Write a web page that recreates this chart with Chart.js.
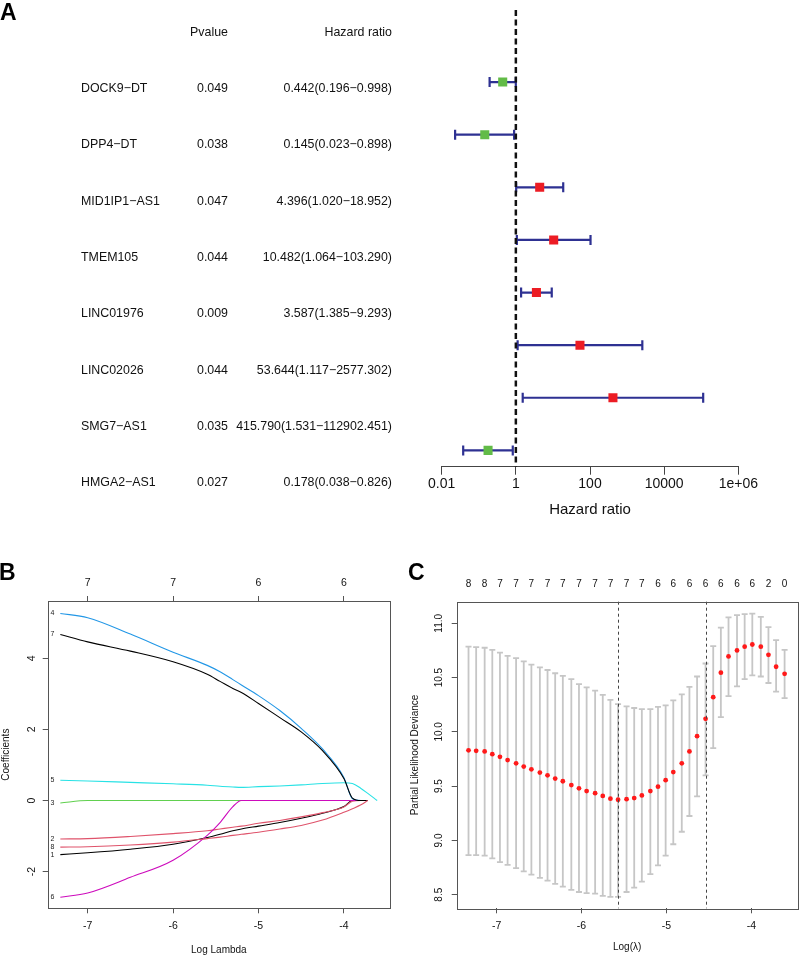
<!DOCTYPE html>
<html lang="en">
<head>
<meta charset="UTF-8">
<title>Cox forest plot and LASSO</title>
<script src="https://cdn.jsdelivr.net/npm/chart.js@4.4.1/dist/chart.umd.min.js"></script>
<style>
    body { margin: 0; background: #fff; font-family: "Liberation Sans", Arial, Helvetica, sans-serif; }
    #page { position: relative; width: 800px; height: 957px; overflow: hidden; }
    #page canvas { position: absolute; }
    .txt { position: absolute; font-size: 12.4px; line-height: 16px; color: #111; white-space: nowrap; }
    .panel { position: absolute; font-weight: bold; font-size: 23px; line-height: 23px; color: #000; }
</style>
</head>
<body>
<div id="page">
    <canvas id="forest" width="800" height="519" style="left:0;top:0"></canvas>
    <canvas id="coef" width="400" height="397" style="left:0;top:560px"></canvas>
    <canvas id="cv" width="400" height="397" style="left:400px;top:560px"></canvas>
    <div class="panel" style="left:0;top:1px">A</div>
    <div class="panel" style="left:-1px;top:561px">B</div>
    <div class="panel" style="left:408px;top:561px">C</div>
</div>
<script>
// ---- panel A : univariate cox
const genes = ['DOCK9-DT', 'DPP4-DT', 'MID1IP1-AS1', 'TMEM105', 'LINC01976', 'LINC02026', 'SMG7-AS1', 'HMGA2-AS1'];
const pvals = [0.049, 0.038, 0.047, 0.044, 0.009, 0.044, 0.035, 0.027];
const hr = [0.442, 0.145, 4.396, 10.482, 3.587, 53.644, 415.790, 0.178];
const hrLow = [0.196, 0.023, 1.020, 1.064, 1.385, 1.117, 1.531, 0.038];
const hrHigh = [0.998, 0.898, 18.952, 103.290, 9.293, 2577.302, 112902.451, 0.826];
const hrTicks = [0.01, 1, 100, 10000, 1e6];
const hrTickLabels = ['0.01', '1', '100', '10000', '1e+06'];

// ---- panel B : coefficient paths
const logLambdaB = [-7.32, -7.0, -6.5, -6.0, -5.6, -5.45, -5.3, -5.2, -5.0, -4.75, -4.5, -4.25, -4.0, -3.9, -3.8, -3.72, -3.61];
const coef1 = [-1.52, -1.47, -1.37, -1.23, -1.04, -0.95, -0.85, -0.80, -0.72, -0.62, -0.50, -0.36, -0.17, 0, 0, 0, null];
const coef2 = [-1.08, -1.07, -1.01, -0.93, -0.85, -0.80, -0.75, -0.72, -0.64, -0.56, -0.46, -0.34, -0.18, -0.02, 0, 0, null];
const coef3 = [-0.07, 0, 0, 0, 0, 0, 0, 0, 0, 0, 0, 0, 0, 0, 0, 0, null];
const coef4 = [5.26, 5.14, 4.68, 4.17, 3.80, 3.62, 3.40, 3.25, 2.95, 2.53, 2.03, 1.45, 0.65, 0.05, 0, 0, null];
const coef5 = [0.57, 0.55, 0.51, 0.47, 0.43, 0.40, 0.38, 0.37, 0.39, 0.41, 0.44, 0.48, 0.50, 0.48, 0.34, 0.20, 0];
const coef6 = [-2.72, -2.60, -2.16, -1.68, -0.98, -0.62, -0.17, 0, 0, 0, 0, 0, 0, 0, 0, 0, null];
const coef7 = [4.67, 4.46, 4.20, 3.90, 3.55, 3.35, 3.15, 3.04, 2.73, 2.33, 1.93, 1.40, 0.62, 0.07, 0, 0, null];
const coef8 = [-1.31, -1.30, -1.25, -1.17, -1.07, -1.03, -0.98, -0.95, -0.89, -0.80, -0.70, -0.55, -0.33, -0.23, -0.12, 0, null];
const coefTicksX = [-7, -6, -5, -4];
const coefTopLabels = ['7', '7', '6', '6'];
const coefTicksY = [-2, 0, 2, 4];

// ---- panel C : cross validation
const logLambdaC = [-7.33, -7.24, -7.14, -7.05, -6.96, -6.87, -6.77, -6.68, -6.59, -6.49, -6.40, -6.31, -6.22, -6.12,
    -6.03, -5.94, -5.84, -5.75, -5.66, -5.57, -5.47, -5.38, -5.29, -5.19, -5.10, -5.01, -4.92, -4.82, -4.73, -4.64,
    -4.54, -4.45, -4.36, -4.27, -4.17, -4.08, -3.99, -3.89, -3.80, -3.71, -3.61];
const cvm = [9.83, 9.825, 9.82, 9.795, 9.77, 9.74, 9.71, 9.68, 9.655, 9.625, 9.60, 9.57, 9.545, 9.51, 9.48, 9.455,
    9.435, 9.41, 9.385, 9.375, 9.38, 9.39, 9.415, 9.455, 9.495, 9.555, 9.63, 9.71, 9.82, 9.96, 10.12, 10.32, 10.545,
    10.695, 10.75, 10.785, 10.805, 10.785, 10.71, 10.60, 10.535];
const cvUp = [10.785, 10.78, 10.775, 10.755, 10.73, 10.70, 10.68, 10.65, 10.62, 10.595, 10.57, 10.54, 10.515, 10.485,
    10.44, 10.41, 10.38, 10.34, 10.295, 10.255, 10.235, 10.22, 10.21, 10.21, 10.23, 10.245, 10.29, 10.345, 10.415,
    10.51, 10.63, 10.79, 10.96, 11.055, 11.075, 11.085, 11.09, 11.06, 10.965, 10.845, 10.755];
const cvLo = [8.865, 8.865, 8.86, 8.835, 8.80, 8.775, 8.745, 8.715, 8.685, 8.655, 8.63, 8.60, 8.575, 8.545, 8.525,
    8.515, 8.51, 8.49, 8.48, 8.48, 8.525, 8.565, 8.62, 8.69, 8.77, 8.86, 8.965, 9.08, 9.225, 9.405, 9.60, 9.85, 10.135,
    10.33, 10.42, 10.485, 10.52, 10.51, 10.45, 10.37, 10.31];
const nzeroC = [8, 8, 7, 7, 7, 7, 7, 7, 7, 7, 7, 7, 6, 6, 6, 6, 6, 6, 6, 2, 0];   // every 2nd lambda
const lambdaMinLog = -5.57;
const lambda1seLog = -4.54;
const cvTicksX = [-7, -6, -5, -4];
const cvTicksY = [8.5, 9.0, 9.5, 10.0, 10.5, 11.0];

const FONT = '"Liberation Sans", Arial, Helvetica, sans-serif';
Chart.defaults.font.family = FONT;
Chart.defaults.color = '#111';
Chart.defaults.animation = false;
Chart.defaults.responsive = false;
Chart.defaults.plugins.legend.display = false;
Chart.defaults.plugins.tooltip.enabled = false;

const MINUS = '\u2212';

// table text of panel A
const page = document.getElementById('page');
function addText(txt, left, top, width, align) {
    const d = document.createElement('div');
    d.className = 'txt';
    d.textContent = txt;
    d.style.left = left + 'px';
    d.style.top = top + 'px';
    if (width) { d.style.width = width + 'px'; d.style.textAlign = align; }
    page.appendChild(d);
}
addText('Pvalue', 0, 24, 228, 'right');
addText('Hazard ratio', 0, 24, 392, 'right');
genes.forEach((g, i) => {
    const top = 80 + 56.3 * i;
    addText(g.replace(/-/g, MINUS), 81, top);
    addText(pvals[i].toFixed(3), 0, top, 228, 'right');
    addText(hr[i].toFixed(3) + '(' + hrLow[i].toFixed(3) + MINUS + hrHigh[i].toFixed(3) + ')', 0, top, 392, 'right');
});

// error bars of the forest plot
const forestBars = {
    id: 'forestBars',
    beforeDatasetsDraw(chart) {
        const {ctx, scales: {x, y}} = chart;
        ctx.save();
        ctx.strokeStyle = '#2e3192';
        ctx.lineWidth = 2.2;
        hr.forEach((v, i) => {
            const x1 = x.getPixelForValue(hrLow[i]);
            const x2 = x.getPixelForValue(hrHigh[i]);
            const yy = y.getPixelForValue(i);
            ctx.beginPath();
            ctx.moveTo(x1, yy); ctx.lineTo(x2, yy);
            ctx.moveTo(x1, yy - 5); ctx.lineTo(x1, yy + 5);
            ctx.moveTo(x2, yy - 5); ctx.lineTo(x2, yy + 5);
            ctx.stroke();
        });
        ctx.restore();
    }
};

new Chart(document.getElementById('forest'), {
    type: 'scatter',
    data: {
        datasets: [{
            data: hr.map((v, i) => ({x: v, y: i})),
            pointStyle: 'rect',
            pointRadius: 6.4,
            pointHoverRadius: 6.4,
            borderWidth: 0,
            backgroundColor: hr.map(v => v < 1 ? '#62bb47' : '#ec1c24')
        }, {
            data: [{x: 1, y: -1.37}, {x: 1, y: 7.31}],
            showLine: true,
            borderColor: '#111',
            borderWidth: 2.5,
            borderDash: [6, 3.5],
            pointRadius: 0
        }]
    },
    options: {
        layout: {padding: {left: 441.7, right: 61.7, top: 10, bottom: 0}},
        scales: {
            x: {
                type: 'logarithmic',
                min: 0.01,
                max: 1e6,
                afterBuildTicks: s => { s.ticks = hrTicks.map(v => ({value: v})); },
                afterFit: s => { s.height = 52.3; },
                ticks: {
                    callback: (v, i) => hrTickLabels[i],
                    font: {size: 14},
                    color: '#111',
                    padding: 1,
                    autoSkip: false,
                    maxRotation: 0
                },
                grid: {drawOnChartArea: false, tickLength: 8, color: '#444'},
                border: {color: '#444'},
                title: {display: true, text: 'Hazard ratio', font: {size: 15}, color: '#111', padding: {top: 0, bottom: 0}}
            },
            y: {display: false, min: -1.37, max: 7.31, reverse: true}
        }
    },
    plugins: [forestBars]
});

// box around the plot region (R style)
const frame = {
    id: 'frame',
    afterDraw(chart) {
        const {ctx, chartArea: a} = chart;
        ctx.save();
        ctx.strokeStyle = '#555';
        ctx.lineWidth = 1;
        ctx.strokeRect(Math.round(a.left) + 0.5, Math.round(a.top) + 0.5, Math.round(a.width), Math.round(a.height));
        ctx.restore();
    }
};

function rAxisX(ticks, labels, extra) {
    return Object.assign({
        type: 'linear',
        min: -7.468,
        max: -3.46,
        afterBuildTicks: s => { s.ticks = ticks.map(v => ({value: v})); },
        ticks: {callback: (v, i) => labels[i], font: {size: 10.5}, color: '#111', autoSkip: false, maxRotation: 0},
        grid: {drawOnChartArea: false, tickLength: 5, color: '#555'},
        border: {display: false}
    }, extra);
}

// ---- panel B
const coefPalette = ['#000000', '#DF536B', '#61D04F', '#2297E6', '#28E2E5', '#CD0BBC'];
const coefs = [coef1, coef2, coef3, coef4, coef5, coef6, coef7, coef8];

const pathLabels = {
    id: 'pathLabels',
    afterDatasetsDraw(chart) {
        const {ctx} = chart;
        ctx.save();
        ctx.font = '7px ' + FONT;
        ctx.fillStyle = '#222';
        ctx.textAlign = 'center';
        ctx.textBaseline = 'middle';
        chart.data.datasets.forEach((ds, i) => {
            const p = chart.getDatasetMeta(i).data[0];
            ctx.fillText(ds.label, p.x - 8, p.y);
        });
        ctx.restore();
    }
};

new Chart(document.getElementById('coef'), {
    type: 'scatter',
    data: {
        datasets: coefs.map((vals, k) => ({
            label: String(k + 1),
            data: logLambdaB.map((x, i) => ({x: x, y: vals[i]})),
            showLine: true,
            borderColor: coefPalette[k % 6],
            borderWidth: 1.1,
            pointRadius: 0,
            cubicInterpolationMode: 'monotone',
            order: 8 - k
        }))
    },
    options: {
        layout: {padding: {left: 0, right: 10, top: 0, bottom: 0}},
        scales: {
            x: rAxisX(coefTicksX, coefTicksX.map(String), {
                position: 'bottom',
                afterFit: s => { s.height = 48.7; },
                title: {display: true, text: 'Log Lambda', font: {size: 10}, color: '#111', padding: {top: 0, bottom: 1}}
            }),
            xTop: rAxisX(coefTicksX, coefTopLabels, {
                position: 'top',
                afterFit: s => { s.height = 41; }
            }),
            y: {
                min: -3.03,
                max: 5.61,
                afterBuildTicks: s => { s.ticks = coefTicksY.map(v => ({value: v})); },
                afterFit: s => { s.width = 47.7; },
                ticks: {font: {size: 10.5}, color: '#111', minRotation: 90, maxRotation: 90, crossAlign: 'center', padding: 6.3, autoSkip: false},
                grid: {drawOnChartArea: false, tickLength: 5, color: '#555'},
                border: {display: false},
                title: {display: true, text: 'Coefficients', font: {size: 10}, color: '#111', padding: {top: 0.3, bottom: 0}}
            }
        }
    },
    plugins: [pathLabels, frame]
});
// padding for the tick labels of B
const coefChart = Chart.getChart('coef');
coefChart.options.scales.xTop.ticks.padding = 6.4;
coefChart.options.scales.x.ticks.padding = 7;
coefChart.update();

// ---- panel C
const cvBars = {
    id: 'cvBars',
    beforeDatasetsDraw(chart) {
        const {ctx, scales: {x, y}} = chart;
        ctx.save();
        ctx.strokeStyle = '#c6c6c6';
        ctx.lineWidth = 1.8;
        logLambdaC.forEach((l, i) => {
            const px = x.getPixelForValue(l);
            const y1 = y.getPixelForValue(cvLo[i]);
            const y2 = y.getPixelForValue(cvUp[i]);
            ctx.beginPath();
            ctx.moveTo(px, y1); ctx.lineTo(px, y2);
            ctx.moveTo(px - 3, y1); ctx.lineTo(px + 3, y1);
            ctx.moveTo(px - 3, y2); ctx.lineTo(px + 3, y2);
            ctx.stroke();
        });
        ctx.restore();
    },
    afterDatasetsDraw(chart) {
        const {ctx, chartArea: a, scales: {x}} = chart;
        ctx.save();
        ctx.strokeStyle = '#444';
        ctx.lineWidth = 1;
        ctx.setLineDash([3, 3]);
        [lambdaMinLog, lambda1seLog].forEach(l => {
            const px = Math.round(x.getPixelForValue(l)) + 0.5;
            ctx.beginPath();
            ctx.moveTo(px, a.top); ctx.lineTo(px, a.bottom);
            ctx.stroke();
        });
        ctx.restore();
    }
};

const cvTopTicks = nzeroC.map((n, i) => logLambdaC[i * 2]);

new Chart(document.getElementById('cv'), {
    type: 'scatter',
    data: {
        datasets: [{
            data: logLambdaC.map((l, i) => ({x: l, y: cvm[i]})),
            pointRadius: 2.4,
            pointHoverRadius: 2.4,
            borderWidth: 0,
            backgroundColor: '#ff1a1a'
        }]
    },
    options: {
        layout: {padding: {left: 0, right: 1, top: 0, bottom: 0}},
        scales: {
            x: rAxisX(cvTicksX, cvTicksX.map(String), {
                position: 'bottom',
                min: -7.469,
                max: -3.457,
                afterFit: s => { s.height = 48.7; },
                title: {display: true, text: 'Log(\u03bb)', font: {size: 10}, color: '#111', padding: {top: 0, bottom: 4}}
            }),
            xTop: rAxisX(cvTopTicks, nzeroC.map(String), {
                position: 'top',
                min: -7.469,
                max: -3.457,
                grid: {display: false, drawTicks: false},
                afterFit: s => { s.height = 41.7; }
            }),
            y: {
                min: 8.375,
                max: 11.199,
                afterBuildTicks: s => { s.ticks = cvTicksY.map(v => ({value: v})); },
                afterFit: s => { s.width = 56.7; },
                ticks: {callback: v => v.toFixed(1), font: {size: 10}, color: '#111', minRotation: 90, maxRotation: 90, crossAlign: 'center', padding: 2.7, autoSkip: false},
                grid: {drawOnChartArea: false, tickLength: 5, color: '#555'},
                border: {display: false},
                title: {display: true, text: 'Partial Likelihood Deviance', font: {size: 10}, color: '#111', padding: {top: 9, bottom: 0}}
            }
        }
    },
    plugins: [cvBars, frame]
});
const cvChart = Chart.getChart('cv');
cvChart.options.scales.xTop.ticks.padding = 11.4;
cvChart.options.scales.xTop.ticks.font = {size: 10};
cvChart.options.scales.x.ticks.padding = 7;
cvChart.update();
</script>
</body>
</html>
